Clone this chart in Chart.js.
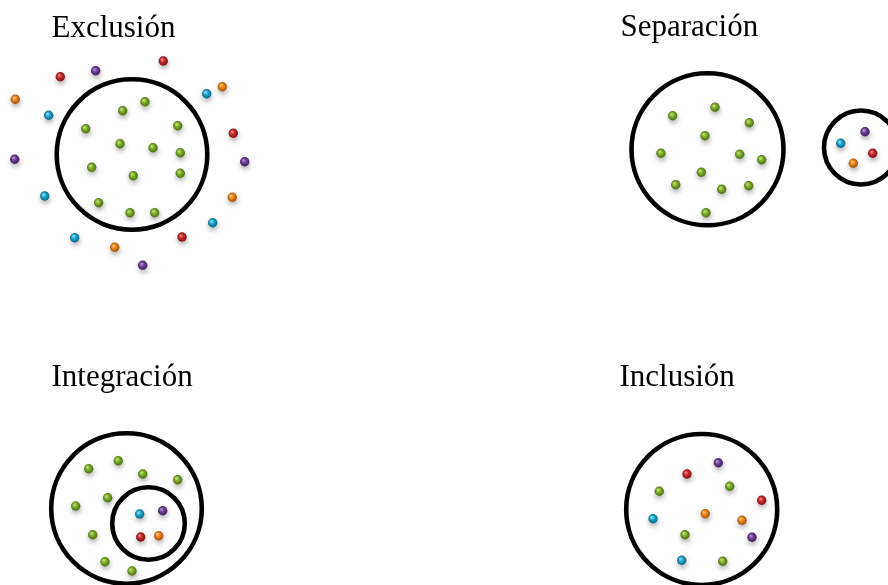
<!DOCTYPE html>
<html>
<head>
<meta charset="utf-8">
<script src="https://cdn.jsdelivr.net/npm/chart.js@4/dist/chart.umd.min.js"></script>
<style>
  html, body { margin: 0; padding: 0; background: #ffffff; }
  #wrap { width: 888px; height: 585px; position: relative; }
</style>
</head>
<body>
<div id="wrap"><canvas id="c" width="888" height="585"></canvas></div>
<script>
// ---- Data (x, y in picture units) ----
const panelTitles = ['Exclusión', 'Separación', 'Integración', 'Inclusión'];

const circleX = [132, 707.5, 861, 126.5, 148.5, 701.7];
const circleY = [154.5, 149.3, 147.5, 508.5, 523.5, 509.5];

const greenX = [145, 122.7, 85.7, 177.7, 120, 153, 180.3, 91.7, 133.3, 180.3, 98.7, 130, 154.7,
                715, 672.7, 749.3, 705, 661, 739.7, 761.7, 701.3, 675.7, 721.7, 748.7, 706,
                118.3, 88.7, 142.7, 177.7, 107.7, 75.7, 92.7, 105, 132,
                729.7, 659.3, 685, 722.7];
const greenY = [101.7, 110.7, 128.7, 125.7, 143.7, 147.7, 152.7, 167.3, 175.7, 173.3, 202.7, 212.7, 212.7,
                107.3, 115.7, 122.7, 135.7, 153.3, 154.3, 159.7, 172.3, 184.7, 189.3, 185.7, 212.7,
                460.7, 468.7, 474, 479.7, 497.7, 506, 534.7, 561.7, 571,
                486.3, 491.3, 534.7, 561.3];

const redX = [163.3, 60.3, 233.3, 182, 872.7, 140.7, 687, 761.7];
const redY = [61, 76.7, 133.3, 237, 153.3, 537, 474, 500.3];

const purpleX = [95.7, 14.7, 244.7, 142.7, 865, 162.7, 718.3, 752];
const purpleY = [70.7, 159.3, 161.7, 265.3, 131.7, 510.7, 462.7, 537.3];

const cyanX = [206.7, 48.7, 44.7, 212.7, 74.7, 840.7, 139.7, 653, 681.7];
const cyanY = [93.7, 115.3, 196, 222.7, 237.7, 143.3, 514, 518.7, 560.3];

const orangeX = [222.3, 15.3, 232.3, 114.7, 853.3, 158.7, 705.3, 742];
const orangeY = [86.7, 99.3, 197.3, 247.3, 163.3, 535.7, 513.7, 520.3];

// ---- Presentation (layout and style) ----
const titleLayout = {
  x: [51.5, 620.5, 51.5, 619.5],
  y: [36.5, 36, 386, 386]
};
const circleRadii = [75.3, 76, 37, 75.3, 36.3, 75.5];

function pts(xs, ys) { return xs.map((x, i) => ({ x: x, y: ys[i] })); }

function sphere(light, base, dark) {
  return function (ctx) {
    const chart = ctx.chart;
    const raw = ctx.raw;
    if (!raw || !chart.scales.x) return base;
    const px = chart.scales.x.getPixelForValue(raw.x);
    const py = chart.scales.y.getPixelForValue(raw.y);
    if (!isFinite(px) || !isFinite(py)) return base;
    const g = chart.ctx.createRadialGradient(px - 1.4, py - 1.6, 0.3, px, py, 5);
    g.addColorStop(0, light);
    g.addColorStop(0.45, base);
    g.addColorStop(1, dark);
    return g;
  };
}

function dotSet(label, xs, ys, light, base, dark) {
  return {
    label: label,
    data: pts(xs, ys),
    isDot: true,
    order: 0,
    pointRadius: 4.7,
    pointBorderWidth: 0,
    pointBackgroundColor: sphere(light, base, dark),
    pointBorderColor: 'rgba(0,0,0,0)',
    showLine: false,
    clip: false
  };
}

const shadowPlugin = {
  id: 'dotShadow',
  beforeDatasetDraw(chart, args) {
    const ds = chart.data.datasets[args.index];
    const c = chart.ctx;
    c.save();
    if (ds.isDot) {
      c.shadowColor = 'rgba(0,0,0,0.32)';
      c.shadowBlur = 5;
      c.shadowOffsetX = 0.5;
      c.shadowOffsetY = 3;
    }
  },
  afterDatasetDraw(chart) {
    chart.ctx.restore();
  }
};

const titlePlugin = {
  id: 'panelTitles',
  afterDraw(chart, args, opts) {
    const c = chart.ctx;
    const sx = chart.scales.x, sy = chart.scales.y;
    c.save();
    c.fillStyle = '#000000';
    c.font = '31px "Liberation Serif", "Times New Roman", serif';
    c.textAlign = 'left';
    c.textBaseline = 'alphabetic';
    panelTitles.forEach((t, i) => {
      c.fillText(t, sx.getPixelForValue(titleLayout.x[i]), sy.getPixelForValue(titleLayout.y[i]));
    });
    c.restore();
  }
};

new Chart(document.getElementById('c'), {
  type: 'scatter',
  data: {
    datasets: [
      dotSet('verde', greenX, greenY, '#c4e27a', '#7aa82a', '#456b10'),
      dotSet('rojo', redX, redY, '#f08a8a', '#c1252c', '#7a1015'),
      dotSet('morado', purpleX, purpleY, '#b493d4', '#6a3d8e', '#3c1f57'),
      dotSet('azul', cyanX, cyanY, '#8fe0f5', '#1c9fc7', '#0c5f7c'),
      dotSet('naranja', orangeX, orangeY, '#ffc57a', '#e5811c', '#9a4d08'),
      {
        label: 'círculos',
        data: pts(circleX, circleY),
        order: 5,
        pointRadius: circleRadii,
        pointBorderWidth: 4.6,
        pointBorderColor: '#000000',
        pointBackgroundColor: 'rgba(0,0,0,0)',
        showLine: false,
        clip: false
      }
    ]
  },
  options: {
    responsive: false,
    animation: false,
    events: [],
    layout: { padding: 0, autoPadding: false },
    plugins: { legend: { display: false }, tooltip: { enabled: false }, title: { display: false } },
    scales: {
      x: { type: 'linear', min: 0, max: 888, display: false },
      y: { type: 'linear', min: 0, max: 585, reverse: true, display: false }
    }
  },
  plugins: [shadowPlugin, titlePlugin]
});
</script>
</body>
</html>
